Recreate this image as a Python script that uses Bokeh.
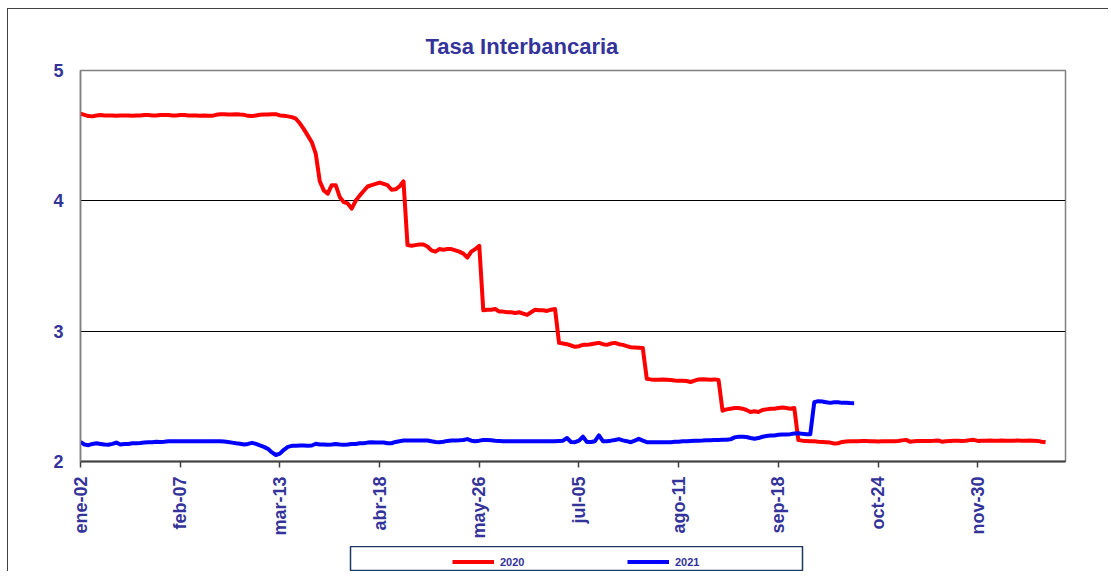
import math
from bokeh.plotting import figure
from bokeh.layouts import column
from bokeh.models import Range1d, FixedTicker, Legend, LegendItem, ColumnDataSource
from bokeh.embed import file_html
from bokeh.resources import INLINE

tick_labels = ["ene-02", "feb-07", "mar-13", "abr-18", "may-26",
               "jul-05", "ago-11", "sep-18", "oct-24", "nov-30"]
tick_step = 25

rate_2020 = [
    4.668, 4.66, 4.65, 4.648, 4.655, 4.658, 4.655, 4.655, 4.655, 4.652,
    4.655, 4.655, 4.655, 4.652, 4.655, 4.655, 4.658, 4.658, 4.655, 4.655,
    4.658, 4.658, 4.658, 4.655, 4.655, 4.658, 4.658, 4.655, 4.655, 4.655,
    4.652, 4.655, 4.652, 4.652, 4.66, 4.665, 4.665, 4.662, 4.662, 4.665,
    4.662, 4.66, 4.652, 4.65, 4.655, 4.66, 4.662, 4.662, 4.665, 4.665,
    4.655, 4.652, 4.648, 4.642, 4.63, 4.595, 4.55, 4.50, 4.45, 4.36,
    4.15, 4.08, 4.055, 4.12, 4.12, 4.03, 3.99, 3.98, 3.94, 4.00,
    4.04, 4.075, 4.11, 4.12, 4.13, 4.14, 4.13, 4.12, 4.085, 4.088,
    4.11, 4.15, 3.66, 3.655, 3.66, 3.665, 3.665, 3.65, 3.62, 3.61,
    3.63, 3.625, 3.63, 3.63, 3.62, 3.61, 3.595, 3.565, 3.61, 3.63,
    3.655, 3.16, 3.165, 3.165, 3.17, 3.15, 3.15, 3.145, 3.145, 3.14,
    3.145, 3.135, 3.125, 3.145, 3.165, 3.16, 3.16, 3.155, 3.165, 3.17,
    2.91, 2.905, 2.90, 2.89, 2.88, 2.885, 2.895, 2.895, 2.90, 2.905,
    2.91, 2.90, 2.895, 2.905, 2.91, 2.90, 2.895, 2.885, 2.877, 2.875,
    2.873, 2.87, 2.635, 2.63, 2.627, 2.627, 2.63, 2.628, 2.625, 2.622,
    2.62, 2.62, 2.618, 2.61, 2.62, 2.63, 2.632, 2.63, 2.628, 2.63,
    2.625, 2.39, 2.40, 2.405, 2.41, 2.41, 2.405, 2.395, 2.38, 2.385,
    2.38, 2.395, 2.40, 2.405, 2.405, 2.41, 2.415, 2.41, 2.405, 2.41,
    2.165, 2.16, 2.158, 2.155, 2.155, 2.152, 2.15, 2.148, 2.145, 2.138,
    2.14, 2.15, 2.153, 2.155, 2.156, 2.156, 2.157, 2.157, 2.156, 2.155,
    2.154, 2.155, 2.156, 2.156, 2.155, 2.157, 2.162, 2.166, 2.152, 2.155,
    2.157, 2.158, 2.158, 2.157, 2.159, 2.162, 2.152, 2.156, 2.158, 2.16,
    2.16, 2.158, 2.16, 2.164, 2.166, 2.158, 2.16, 2.16, 2.162, 2.16,
    2.16, 2.161, 2.16, 2.16, 2.16, 2.161, 2.16, 2.16, 2.161, 2.16,
    2.158, 2.152, 2.148,
]

rate_2021 = [
    2.15, 2.13, 2.125, 2.135, 2.14, 2.135, 2.13, 2.128, 2.135, 2.145,
    2.13, 2.135, 2.135, 2.14, 2.14, 2.142, 2.145, 2.148, 2.148, 2.152,
    2.15, 2.152, 2.155, 2.155, 2.156, 2.156, 2.156, 2.155, 2.156, 2.156,
    2.156, 2.156, 2.155, 2.156, 2.156, 2.155, 2.153, 2.15, 2.145, 2.14,
    2.136, 2.13, 2.135, 2.143, 2.135, 2.123, 2.112, 2.097, 2.07, 2.05,
    2.06, 2.09, 2.112, 2.12, 2.12, 2.123, 2.123, 2.12, 2.123, 2.136,
    2.13, 2.13, 2.128, 2.13, 2.135, 2.13, 2.128, 2.13, 2.135, 2.135,
    2.14, 2.14, 2.145, 2.148, 2.146, 2.146, 2.146, 2.14, 2.14, 2.15,
    2.156, 2.161, 2.161, 2.161, 2.161, 2.161, 2.161, 2.161, 2.155, 2.15,
    2.148, 2.152, 2.158, 2.161, 2.162, 2.163, 2.165, 2.172, 2.16, 2.156,
    2.16, 2.165, 2.165, 2.163, 2.16, 2.158, 2.156, 2.156, 2.156, 2.156,
    2.156, 2.156, 2.156, 2.156, 2.156, 2.156, 2.156, 2.156, 2.156, 2.156,
    2.158, 2.16, 2.18, 2.15, 2.148, 2.16, 2.19, 2.15, 2.15, 2.156,
    2.2, 2.156, 2.156, 2.16, 2.165, 2.172, 2.162, 2.156, 2.148, 2.16,
    2.174, 2.16, 2.148, 2.148, 2.148, 2.148, 2.148, 2.148, 2.148, 2.152,
    2.152, 2.155, 2.156, 2.158, 2.16, 2.16, 2.161, 2.163, 2.163, 2.165,
    2.165, 2.167, 2.167, 2.17, 2.185, 2.19, 2.19, 2.188, 2.18, 2.174,
    2.18, 2.19, 2.195, 2.2, 2.2, 2.205, 2.207, 2.208, 2.21, 2.215,
    2.217, 2.212, 2.21, 2.21, 2.455, 2.463, 2.46, 2.455, 2.45, 2.455,
    2.455, 2.45, 2.45, 2.448, 2.447,
]

series_names = ["2020", "2021"]
series_colors = ["#FF0000", "#0000FF"]
series_values = [rate_2020, rate_2021]

TXT = "#333399"
FONT = "Liberation Sans"

# ---------------- main chart ----------------
p = figure(width=1100, height=536, output_backend="svg", toolbar_location=None,
           x_range=Range1d(0, 247), y_range=Range1d(2, 5),
           min_border_left=72, min_border_right=43,
           min_border_top=61, min_border_bottom=84,
           background_fill_color="white", border_fill_color="white")

p.title.text = "Tasa Interbancaria"
p.title.align = "left"
p.title.offset = 345
p.title.text_font = FONT
p.title.text_font_style = "bold"
p.title.text_font_size = "22px"
p.title.text_color = TXT
p.title.standoff = 24

p.outline_line_color = "#808080"
p.outline_line_width = 1.5

for vals, col in zip(series_values, series_colors):
    src = ColumnDataSource(dict(x=list(range(len(vals))), y=vals))
    p.line("x", "y", source=src, line_color=col, line_width=4, line_join="round")

ticks = [i * tick_step for i in range(len(tick_labels))]
p.xaxis.ticker = FixedTicker(ticks=ticks)
p.xaxis.major_label_overrides = {t: lab for t, lab in zip(ticks, tick_labels)}
p.xaxis.major_label_orientation = math.pi / 2
p.xaxis.major_label_text_font = FONT
p.xaxis.major_label_text_font_style = "bold"
p.xaxis.major_label_text_font_size = "18px"
p.xaxis.major_label_text_color = TXT
p.xaxis.major_label_standoff = 9
p.xaxis.axis_line_color = "#404040"
p.xaxis.axis_line_width = 2
p.xaxis.major_tick_line_color = "#404040"
p.xaxis.major_tick_line_width = 1.5
p.xaxis.major_tick_out = 6
p.xaxis.major_tick_in = 0
p.xaxis.minor_tick_line_color = None

p.yaxis.ticker = FixedTicker(ticks=[2, 3, 4, 5])
p.yaxis.major_label_text_font = FONT
p.yaxis.major_label_text_font_style = "bold"
p.yaxis.major_label_text_font_size = "18px"
p.yaxis.major_label_text_color = TXT
p.yaxis.major_label_standoff = 11
p.yaxis.axis_line_color = "#808080"
p.yaxis.axis_line_width = 1.5
p.yaxis.major_tick_line_color = None
p.yaxis.minor_tick_line_color = None

p.xgrid.grid_line_color = None
p.ygrid.ticker = FixedTicker(ticks=[3, 4])
p.ygrid.grid_line_color = "black"
p.ygrid.grid_line_width = 1

# ---------------- legend box ----------------
# the column aligns plot frames, so this plot gets the main plot's side borders (72 / 43)
lg = figure(width=452 + 72 + 43, height=25, output_backend="svg", toolbar_location=None,
            x_axis_location=None, y_axis_location=None,
            min_border_left=72, min_border_right=43, min_border_top=0, min_border_bottom=0,
            x_range=Range1d(0, 1), y_range=Range1d(10, 11),
            background_fill_color="white", border_fill_color=None)
lg.grid.visible = False
lg.outline_line_color = "#1F3864"
lg.outline_line_width = 1.5
lg.margin = (1, 0, 0, 270)

leg_renderers = []
for vals, col in zip(series_values, series_colors):
    src = ColumnDataSource(dict(x=list(range(len(vals))), y=vals))
    leg_renderers.append(lg.line("x", "y", source=src, line_color=col, line_width=4))

legend = Legend(
    items=[LegendItem(label=n, renderers=[r]) for n, r in zip(series_names, leg_renderers)],
    orientation="horizontal", location=(102, 0),
    padding=3, spacing=6, glyph_width=42, glyph_height=19,
    label_height=19, label_width=121, label_standoff=6,
    label_text_font=FONT, label_text_font_style="bold", label_text_font_size="11px",
    label_text_color=TXT, border_line_color=None,
    background_fill_alpha=0.0, margin=0,
)
lg.add_layout(legend)

layout = column(p, lg)
layout.styles = {"margin-left": "7px", "margin-top": "8px",
                 "border-left": "1px solid #404040", "border-top": "1px solid #404040"}

open("out.html", "w").write(file_html(layout, INLINE))
